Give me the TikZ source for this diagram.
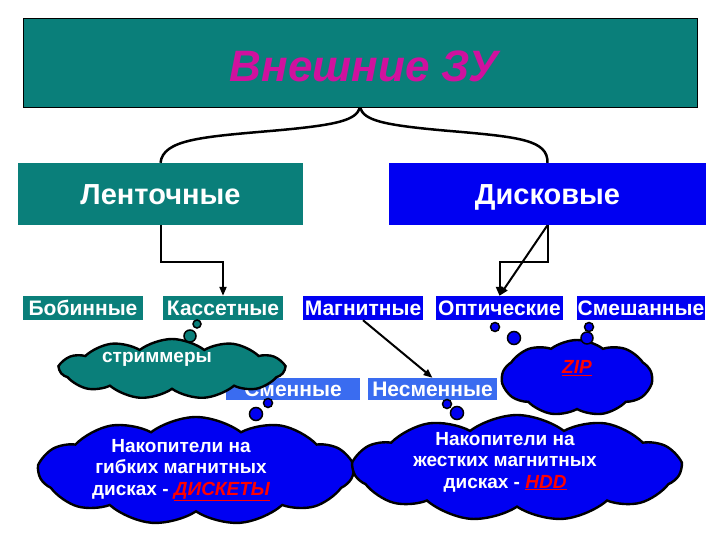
\documentclass[tikz,border=0pt]{standalone}
\usepackage{fontspec}
\setmainfont{Liberation Sans}
\usetikzlibrary{shapes.symbols,arrows.meta}
\definecolor{tealbox}{HTML}{0A7F7A}
\definecolor{bluebox}{HTML}{0000F2}
\definecolor{lightbluebox}{HTML}{3A6CF0}
\definecolor{titlemag}{HTML}{D0119E}
\begin{document}
\begin{tikzpicture}[x=1pt,y=-1pt,
  box/.style={inner sep=0pt, text=white},
  smalllabel/.style={box, minimum height=24pt, font=\bfseries\fontsize{21}{24}\selectfont, text height=15pt, text depth=0pt},
  bigbox/.style={box, minimum height=62pt, font=\bfseries\fontsize{29}{32}\selectfont, text height=21pt, text depth=0pt},
  cloudsh/.style={cloud, cloud puffs=11, cloud puff arc=75, cloud ignores aspect, draw=black, line width=2.4pt, inner sep=0pt},
  bubble/.style={circle, draw=black, line width=1.5pt, inner sep=0pt},
  conn/.style={line width=2pt, draw=black},
  arr/.style={conn, -{Triangle[length=9pt,width=7pt]}},
  cloudtext/.style={text=white, align=center, font=\bfseries\fontsize{19}{21.5}\selectfont}]
\useasboundingbox (0,0) rectangle (720,540);
% top box
\node[box, fill=tealbox, draw=black, line width=0.8pt, minimum width=674pt, minimum height=89pt] (top) at (360,62.5) {};
\node[font=\bfseries\itshape\fontsize{44}{48}\selectfont, text=titlemag] (title) at (364,66) {Внешние ЗУ};
% second level
\node[bigbox, fill=tealbox, minimum width=285pt] (lent) at (160.5,194) {Ленточные};
\node[bigbox, fill=bluebox, minimum width=317pt] (disk) at (547.5,194) {Дисковые};
% brace
\coordinate (bt) at (top.south);
\draw[line width=2.5pt] (lent.north) .. controls (163,140) and (200,137) .. (270,131) .. controls (340,125) and (356,120) .. (bt);
\draw[line width=2.5pt] (disk.north) .. controls (548,140) and (520,137) .. (450,131) .. controls (380,125) and (364,120) .. (bt);
% third level
\node[smalllabel, fill=tealbox, minimum width=120pt] (bob) at (83,308) {Бобинные};
\node[smalllabel, fill=tealbox, minimum width=120pt] (kas) at (223,308) {Кассетные};
\node[smalllabel, fill=bluebox, minimum width=120pt] (mag) at (363,308) {Магнитные};
\node[smalllabel, fill=bluebox, minimum width=127pt] (opt) at (499.5,308) {Оптические};
\node[smalllabel, fill=bluebox, minimum width=128pt] (mix) at (641,308) {Смешанные};
\node[smalllabel, fill=lightbluebox, minimum width=134pt, minimum height=22pt] (smen) at (293,389) {Сменные};
\node[smalllabel, fill=lightbluebox, minimum width=129pt, minimum height=22pt] (nesmen) at (432.5,389) {Несменные};
% connectors
\draw[arr] (lent.south) -- ++(0,37) -| (kas.north);
\draw[arr] (disk.south) -- ++(0,37) -| (opt.north);
\draw[arr] (disk.south) -- (opt.north);
\draw[arr] (mag.south) -- (nesmen.north);
% clouds
\node[cloudsh, fill=tealbox, minimum width=224pt, minimum height=60pt] (c1) at (172,369) {};
\node[cloudtext] (t1) at (157,359) {стриммеры};
\node[bubble, fill=tealbox, minimum size=8pt] (b1a) at (197,324) {};
\node[bubble, fill=tealbox, minimum size=12pt] (b1b) at (190,336) {};
\node[cloudsh, fill=bluebox, minimum width=314pt, minimum height=108pt] (c2) at (196,471) {};
\node[cloudtext] (t2) at (181,470) {Накопители на\\гибких магнитных\\дисках - {\color{red}\underline{\itshape ДИСКЕТЫ}}};
\node[bubble, fill=bluebox, minimum size=9pt] (b2a) at (268,403) {};
\node[bubble, fill=bluebox, minimum size=13pt] (b2b) at (256,414) {};
\node[cloudsh, fill=bluebox, minimum width=327pt, minimum height=106pt] (c4) at (517,468) {};
\node[cloudtext] (t4) at (505,462) {Накопители на\\жестких магнитных\\дисках - {\color{red}\underline{\itshape HDD}}};
\node[bubble, fill=bluebox, minimum size=9pt] (b4a) at (447,404) {};
\node[bubble, fill=bluebox, minimum size=13pt] (b4b) at (457,413) {};
\node[cloudsh, fill=bluebox, cloud puffs=9, minimum width=150pt, minimum height=76pt] (c3) at (577,378) {};
\node[cloudtext] (t3) at (577,368) {{\color{red}\underline{\itshape ZIP}}};
\node[bubble, fill=bluebox, minimum size=9pt] (b3a) at (589,327) {};
\node[bubble, fill=bluebox, minimum size=12pt] (b3b) at (587,338) {};
\node[bubble, fill=bluebox, minimum size=9pt] (b5a) at (495,327) {};
\node[bubble, fill=bluebox, minimum size=13pt] (b5b) at (514,338) {};
\end{tikzpicture}
\end{document}
